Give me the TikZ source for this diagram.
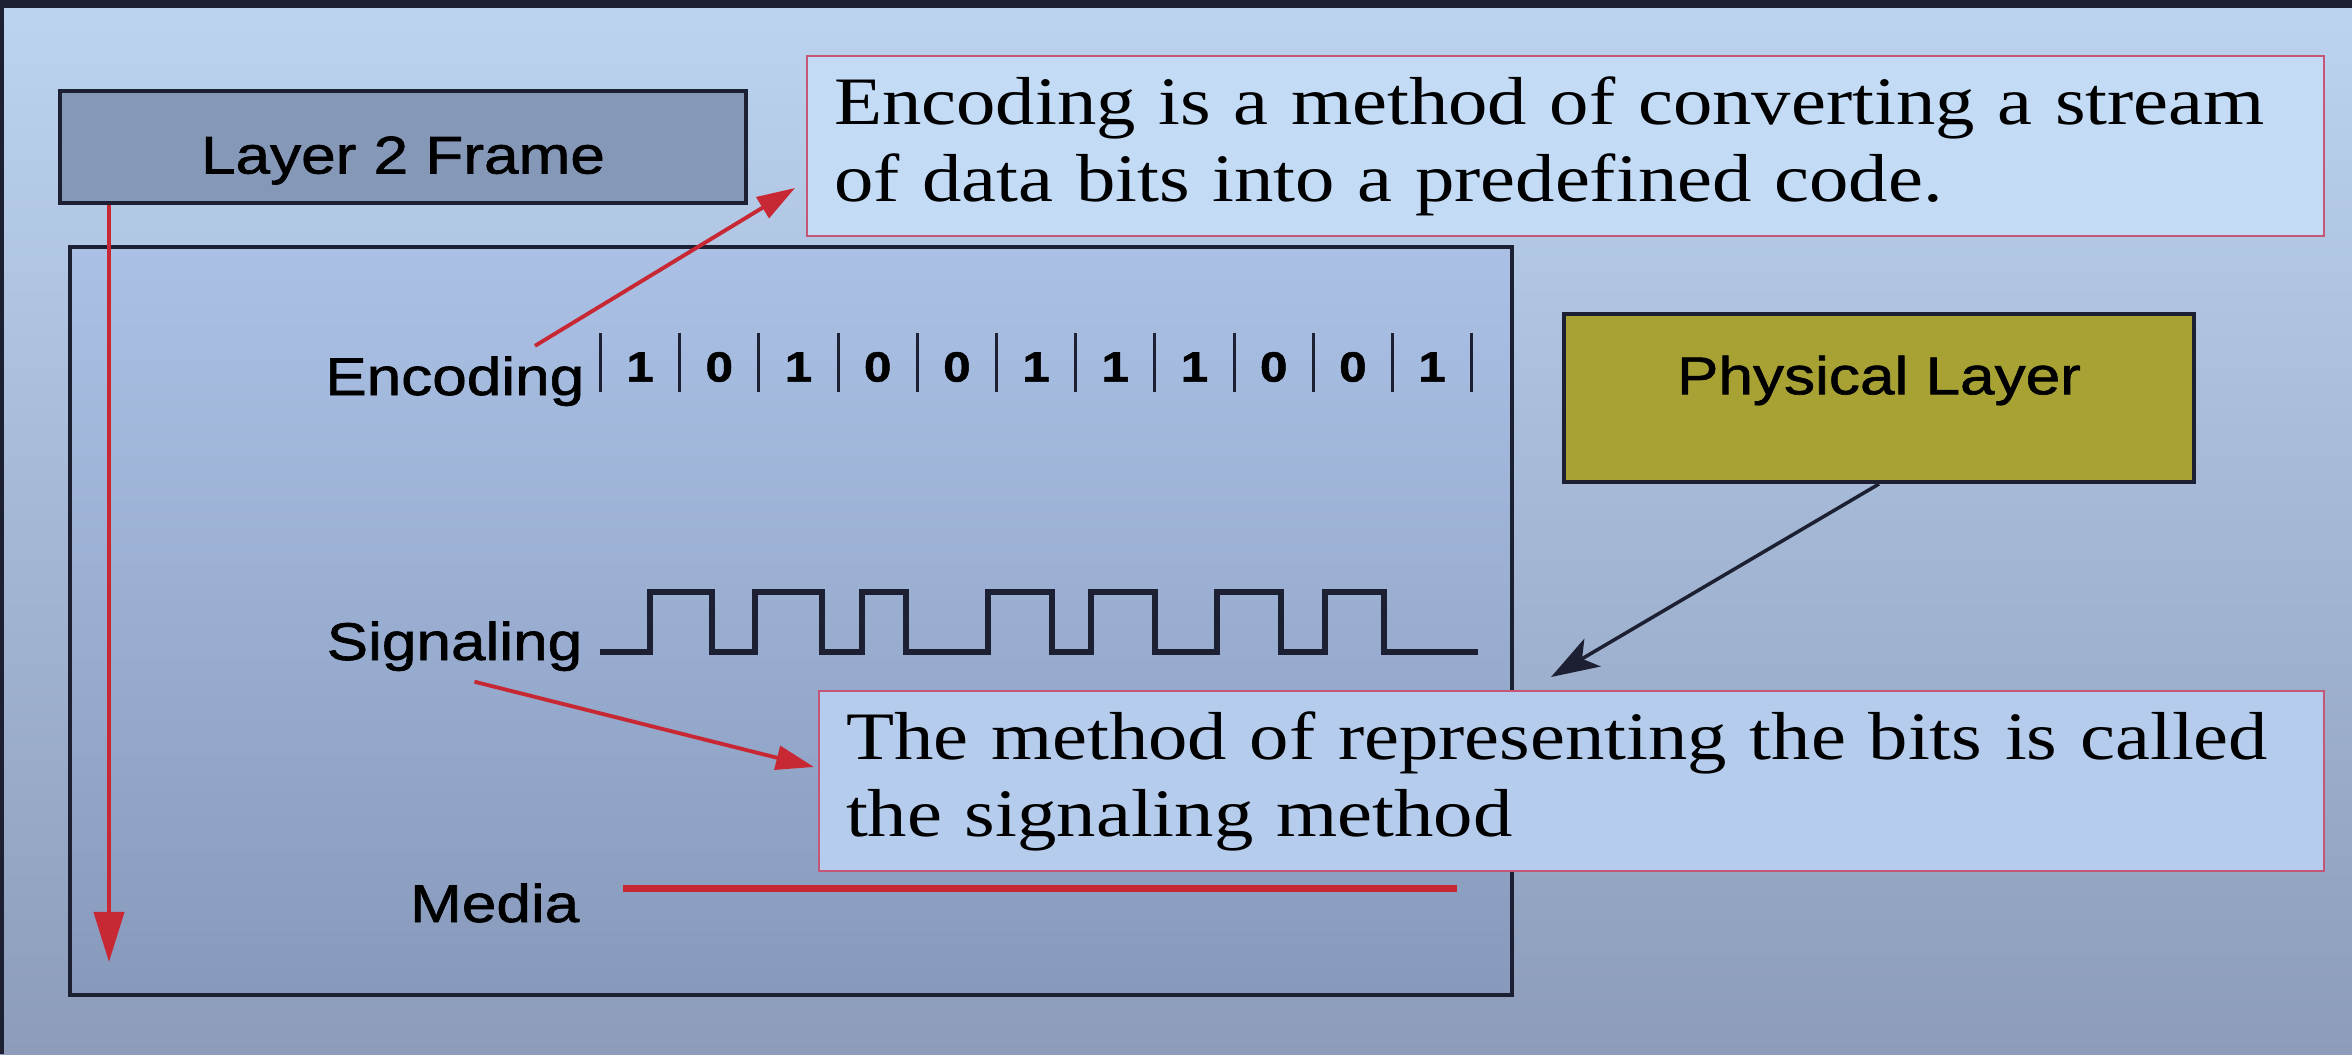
\documentclass[tikz,border=0pt]{standalone}
\usepackage{fontspec}
\newfontfamily\slideserif[FakeStretch=1.16]{Liberation Serif}
\newfontfamily\slidesans[FakeStretch=1.17, FakeBold=1.2]{Liberation Sans}
\usetikzlibrary{arrows.meta}

\definecolor{bgtop}{RGB}{188,212,240}
\definecolor{bgbottom}{RGB}{140,156,186}
\definecolor{edge}{RGB}{28,32,50}
\definecolor{boxtop}{RGB}{170,193,229}
\definecolor{boxbottom}{RGB}{136,154,188}
\definecolor{framefill}{RGB}{134,152,184}
\definecolor{physfill}{RGB}{168,162,52}
\definecolor{encfill}{RGB}{196,219,246}
\definecolor{sigfill}{RGB}{182,204,236}
\definecolor{noteedge}{RGB}{196,86,120}
\definecolor{arrowred}{RGB}{200,40,52}

\tikzset{
  sanstext/.style={font=\slidesans\fontsize{15.1}{18}\selectfont, inner sep=0pt},
  bitnum/.style={font=\slidesans\bfseries\fontsize{12}{14}\selectfont, inner sep=0pt},
  bitsep/.style={draw=edge, line width=0.85pt},
  layerbox/.style={draw=edge, line width=1.1pt, inner sep=0pt},
  notebox/.style={draw=noteedge, line width=0.6pt, anchor=north west, align=left,
    inner xsep=0.27cm, inner ysep=0pt, minimum height=1.8cm,
    font=\slideserif\fontsize{19.3}{22}\selectfont},
  redarrow/.style={draw=arrowred, line width=1.1pt, -{Triangle[length=0.38cm, width=0.24cm]}},
  blackarrow/.style={draw=edge, line width=1pt, -{Stealth[length=0.48cm, width=0.32cm, inset=0.12cm]}},
  wave/.style={draw=edge, line width=1.5pt},
  medialine/.style={draw=arrowred, line width=2pt}
}

\begin{document}
\begin{tikzpicture}[x=0.01cm, y=-0.01cm]
  % Page and background
  \useasboundingbox (0,0) rectangle (2352,1054);
  \shade[top color=bgtop, bottom color=bgbottom] (0,0) rectangle (2352,1054);
  \fill[edge] (0,0) rectangle (2352,8);
  \fill[edge] (0,0) rectangle (4,1054);

  % Main panel
  \draw[edge, line width=0.9pt, top color=boxtop, bottom color=boxbottom] (70,247) rectangle (1512,995);

  % Layer 2 frame and physical layer boxes
  \node[layerbox, fill=framefill, minimum width=6.86cm, minimum height=1.12cm] (l2frame) at (403,147) {};
  \node[sanstext, yshift=-0.135cm] (l2text) at (l2frame) {Layer 2 Frame};

  \node[layerbox, fill=physfill, minimum width=6.3cm, minimum height=1.68cm] (phys) at (1879,398) {};
  \node[sanstext, yshift=0.175cm] (phystext) at (phys) {Physical Layer};

  % Explanation boxes
  \node[notebox, fill=encfill, text width=14.62cm] (enctext) at (806,55)
    {Encoding is a method of converting a stream\\of data bits into a predefined code.};
  \node[notebox, fill=sigfill, text width=14.5cm] (sigtext) at (818,690)
    {The method of representing the bits is called\\the signaling method};

  % Row labels
  \node[sanstext, anchor=base east] (enclabel) at (585,395) {Encoding};
  \node[sanstext, anchor=base east] (siglabel) at (583,660) {Signaling};
  \node[sanstext, anchor=base east] (medialabel) at (580,922) {Media};

  % Encoded bits
  \def\bitx{600.5}
  \def\bitw{79.2}
  \foreach \i in {0,...,11}
    \draw[bitsep] ({\bitx+\bitw*\i},333) -- ++(0,59);
  \foreach \b [count=\i from 0] in {1,0,1,0,0,1,1,1,0,0,1}
    \node[bitnum] (bit\i) at ({\bitx+\bitw*\i+\bitw/2},367) {\b};

  % Signal waveform
  \draw[wave] (600,652)
    foreach \a/\b in {650/712,755/822,862/906,988/1052,1091/1155,1217/1281,1325/1384}
      { -- (\a,652) |- (\b,592) -- (\b,652) }
    -- (1478,652);

  % Media line
  \draw[medialine] (623,888) -- (1457,888);

  % Arrows
  \coordinate (frameend) at (109,962);
  \coordinate (enctip) at (795,188);
  \coordinate (sigtip) at (814,767);
  \coordinate (phystip) at (1551,677);
  \draw[redarrow, -{Triangle[length=0.5cm, width=0.3cm]}] (l2frame.south -| frameend) -- (frameend);
  \draw[redarrow] ([shift={(-50,-10)}]enclabel.north east) -- (enctip);
  \draw[redarrow] ([shift={(20,10)}]siglabel.south) -- (sigtip);
  \draw[blackarrow] (phys.south) -- (phystip);
\end{tikzpicture}
\end{document}
